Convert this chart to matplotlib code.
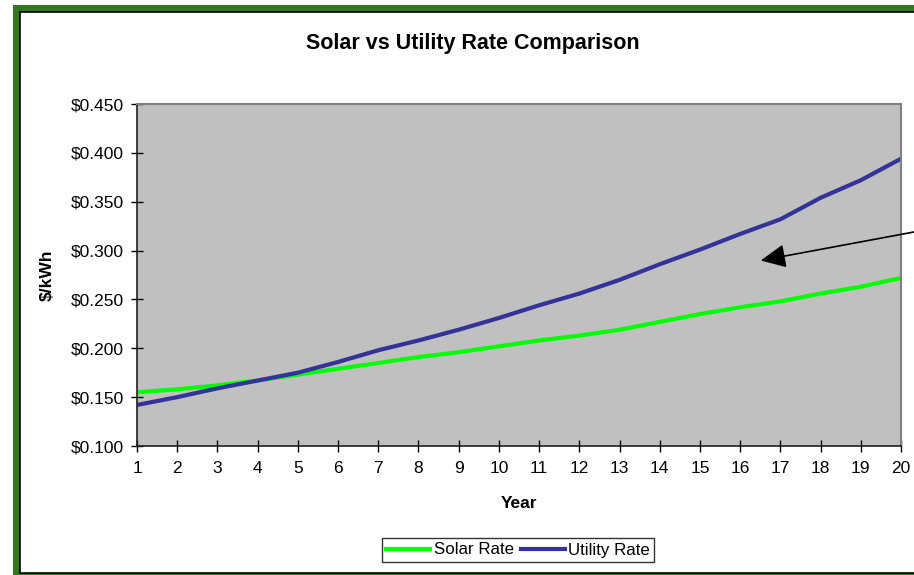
import matplotlib.pyplot as plt
from matplotlib.patches import Rectangle
from matplotlib.ticker import FuncFormatter

# data
years = list(range(1, 21))
solar_rate = [0.155, 0.158, 0.162, 0.167, 0.173, 0.179, 0.185, 0.191, 0.196, 0.202,
              0.208, 0.213, 0.219, 0.227, 0.235, 0.242, 0.248, 0.256, 0.263, 0.272]
utility_rate = [0.142, 0.150, 0.159, 0.167, 0.175, 0.186, 0.198, 0.208, 0.219, 0.231,
                0.244, 0.256, 0.270, 0.286, 0.301, 0.317, 0.332, 0.354, 0.372, 0.394]
y_ticks = [0.100, 0.150, 0.200, 0.250, 0.300, 0.350, 0.400, 0.450]

plt.rcParams['font.family'] = ['Liberation Sans', 'DejaVu Sans']

W, H = 914, 575
fig = plt.figure(figsize=(W / 100, H / 100), dpi=100)

def fx(px):
    return px / W

def fy(py):
    return 1 - py / H

# green frame (cut off on the right / bottom like the screenshot)
fig.patches.append(Rectangle((fx(13), fy(600)), fx(950) - fx(13), fy(5) - fy(600),
                             transform=fig.transFigure, facecolor='#337722',
                             edgecolor='none', zorder=-10))
fig.patches.append(Rectangle((fx(20), fy(573)), fx(960) - fx(20), fy(12) - fy(573),
                             transform=fig.transFigure, facecolor='white',
                             edgecolor='black', lw=1.2, zorder=-9))

ax = fig.add_axes([fx(137), fy(446), fx(901) - fx(137), fy(104) - fy(446)])
ax.set_facecolor('#C0C0C0')

ax.plot(years, solar_rate, color='#00FF00', lw=3, label='Solar Rate')
ax.plot(years, utility_rate, color='#333399', lw=3, label='Utility Rate')

ax.set_xlim(1, 20)
ax.set_ylim(0.1, 0.45)
ax.set_xticks(years)
ax.set_yticks(y_ticks)
ax.yaxis.set_major_formatter(FuncFormatter(lambda v, p: f'${v:.3f}'))
ax.tick_params(direction='inout', length=9, width=1, labelsize=12.5, colors='black')
ax.tick_params(axis='x', pad=6)
ax.tick_params(axis='y', pad=5)

for s in ['top', 'right']:
    ax.spines[s].set_color('#808080')
    ax.spines[s].set_linewidth(1.5)
for s in ['left', 'bottom']:
    ax.spines[s].set_color('#202020')
    ax.spines[s].set_linewidth(1.2)

fig.text(fx(473), fy(44), 'Solar vs Utility Rate Comparison', ha='center', va='center',
         fontsize=15.5, fontweight='bold')
fig.text(fx(519), fy(503), 'Year', ha='center', va='center', fontsize=12.5, fontweight='bold')
fig.text(fx(47), fy(275), '$/kWh', ha='center', va='center', rotation=90,
         fontsize=12.5, fontweight='bold')

# arrow pointing at the gap between the curves
ax.annotate('', xy=(fx(758), fy(261)), xycoords='figure fraction',
            xytext=(fx(930), fy(229)), textcoords='figure fraction',
            arrowprops=dict(arrowstyle='-|>,head_length=0.55,head_width=0.26',
                            color='black', lw=1.2, mutation_scale=28),
            annotation_clip=False)

leg = fig.legend(loc='center', bbox_to_anchor=(fx(518), fy(550)), ncol=2, frameon=True,
                 fontsize=12.2, handlelength=2.6, handletextpad=0.2, columnspacing=0.4,
                 borderpad=0.25, borderaxespad=0, fancybox=False)
leg.get_frame().set_edgecolor('black')
leg.get_frame().set_linewidth(1.0)

fig.savefig('out.png', dpi=100)
